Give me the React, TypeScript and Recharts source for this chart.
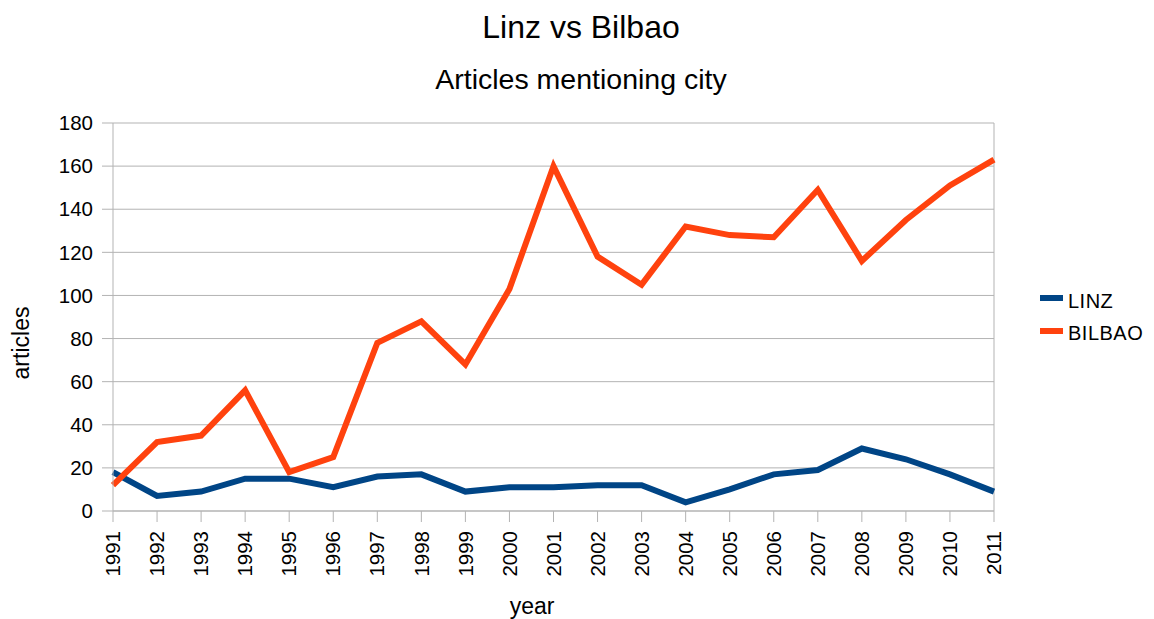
import React from "react";
import {
  LineChart,
  Line,
  XAxis,
  YAxis,
  CartesianGrid,
  Legend,
  ReferenceLine,
  Label,
} from "recharts";

const years = [
  "1991", "1992", "1993", "1994", "1995", "1996", "1997", "1998", "1999", "2000",
  "2001", "2002", "2003", "2004", "2005", "2006", "2007", "2008", "2009", "2010", "2011",
];
const linz = [18, 7, 9, 15, 15, 11, 16, 17, 9, 11, 11, 12, 12, 4, 10, 17, 19, 29, 24, 17, 9];
const bilbao = [12, 32, 35, 56, 18, 25, 78, 88, 68, 103, 160, 118, 105, 132, 128, 127, 149, 116, 135, 151, 163];
const yTicks = [0, 20, 40, 60, 80, 100, 120, 140, 160, 180];
const seriesOrder = ["LINZ", "BILBAO"];

const data = years.map((y, i) => ({ year: y, LINZ: linz[i], BILBAO: bilbao[i] }));

const FONT = '"Liberation Sans", Arial, sans-serif';
const GRID = "#b3b3b3";
const TICK_FS = 20.5;

const XTick = (props: any) => {
  const { x, y, payload } = props;
  return (
    <text
      transform={`translate(${x},${y}) rotate(-90)`}
      textAnchor="end"
      dy="0.35em"
      fontSize={TICK_FS}
      fontFamily={FONT}
      fill="#000"
    >
      {payload.value}
    </text>
  );
};

const LegendContent = (props: any) => {
  const items = [...(props.payload || [])].sort(
    (a: any, b: any) => seriesOrder.indexOf(a.value) - seriesOrder.indexOf(b.value)
  );
  return (
    <div style={{ fontFamily: FONT, fontSize: 20, color: "#000" }}>
      {items.map((p: any) => (
        <div key={p.value} style={{ height: 32.5, display: "flex", alignItems: "center" }}>
          <span
            style={{
              display: "inline-block",
              width: 23,
              height: 6,
              background: p.color,
              marginRight: 5,
              position: "relative",
              top: -3,
            }}
          />
          <span style={{ letterSpacing: 0.5 }}>{p.value}</span>
        </div>
      ))}
    </div>
  );
};

export default function App() {
  return (
    <div
      style={{
        position: "absolute",
        left: 0,
        top: 0,
        width: 1154,
        height: 619,
        background: "#fff",
        fontFamily: FONT,
      }}
    >
      <div
        style={{
          position: "absolute",
          left: 0,
          width: 1162,
          top: 9,
          textAlign: "center",
          fontSize: 32,
          lineHeight: "37px",
          color: "#000",
        }}
      >
        Linz vs Bilbao
      </div>
      <div
        style={{
          position: "absolute",
          left: 0,
          width: 1162,
          top: 63,
          textAlign: "center",
          fontSize: 28.5,
          lineHeight: "33px",
          color: "#000",
        }}
      >
        Articles mentioning city
      </div>
      <LineChart
        width={1154}
        height={619}
        data={data}
        margin={{ top: 123, right: 46, bottom: 0, left: 0 }}
      >
        <CartesianGrid horizontal vertical={false} stroke={GRID} strokeWidth={1} />
        <XAxis
          dataKey="year"
          height={108}
          interval={0}
          tickSize={11}
          tickMargin={9}
          tickLine={{ stroke: GRID }}
          axisLine={{ stroke: GRID }}
          tick={<XTick />}
        >
          <Label
            content={(p: any) => {
              const vb = p.viewBox;
              return (
                <text
                  x={vb.x + 419}
                  y={vb.y + 103}
                  textAnchor="middle"
                  fontSize={23}
                  fontFamily={FONT}
                  fill="#000"
                >
                  year
                </text>
              );
            }}
          />
        </XAxis>
        <YAxis
          width={113}
          domain={[0, 180]}
          ticks={yTicks}
          interval={0}
          tickSize={11}
          tickMargin={9}
          tickLine={{ stroke: GRID }}
          axisLine={{ stroke: GRID }}
          tick={{ fontSize: TICK_FS, fill: "#000", fontFamily: FONT }}
        >
          <Label
            content={(p: any) => {
              const vb = p.viewBox;
              return (
                <text
                  x={29}
                  y={vb.y + 220}
                  transform={`rotate(-90, 29, ${vb.y + 220})`}
                  textAnchor="middle"
                  fontSize={23}
                  fontFamily={FONT}
                  fill="#000"
                >
                  articles
                </text>
              );
            }}
          />
        </YAxis>
        <ReferenceLine x="2011" stroke={GRID} strokeWidth={1} />
        <Legend
          layout="horizontal"
          verticalAlign="middle"
          align="right"
          wrapperStyle={{ left: 1040, top: 285, width: 114 }}
          content={<LegendContent />}
        />
        <Line
          type="linear"
          dataKey="LINZ"
          stroke="#004586"
          strokeWidth={6}
          dot={false}
          activeDot={false}
          isAnimationActive={false}
        />
        <Line
          type="linear"
          dataKey="BILBAO"
          stroke="#ff420e"
          strokeWidth={6}
          dot={false}
          activeDot={false}
          isAnimationActive={false}
        />
      </LineChart>
    </div>
  );
}
